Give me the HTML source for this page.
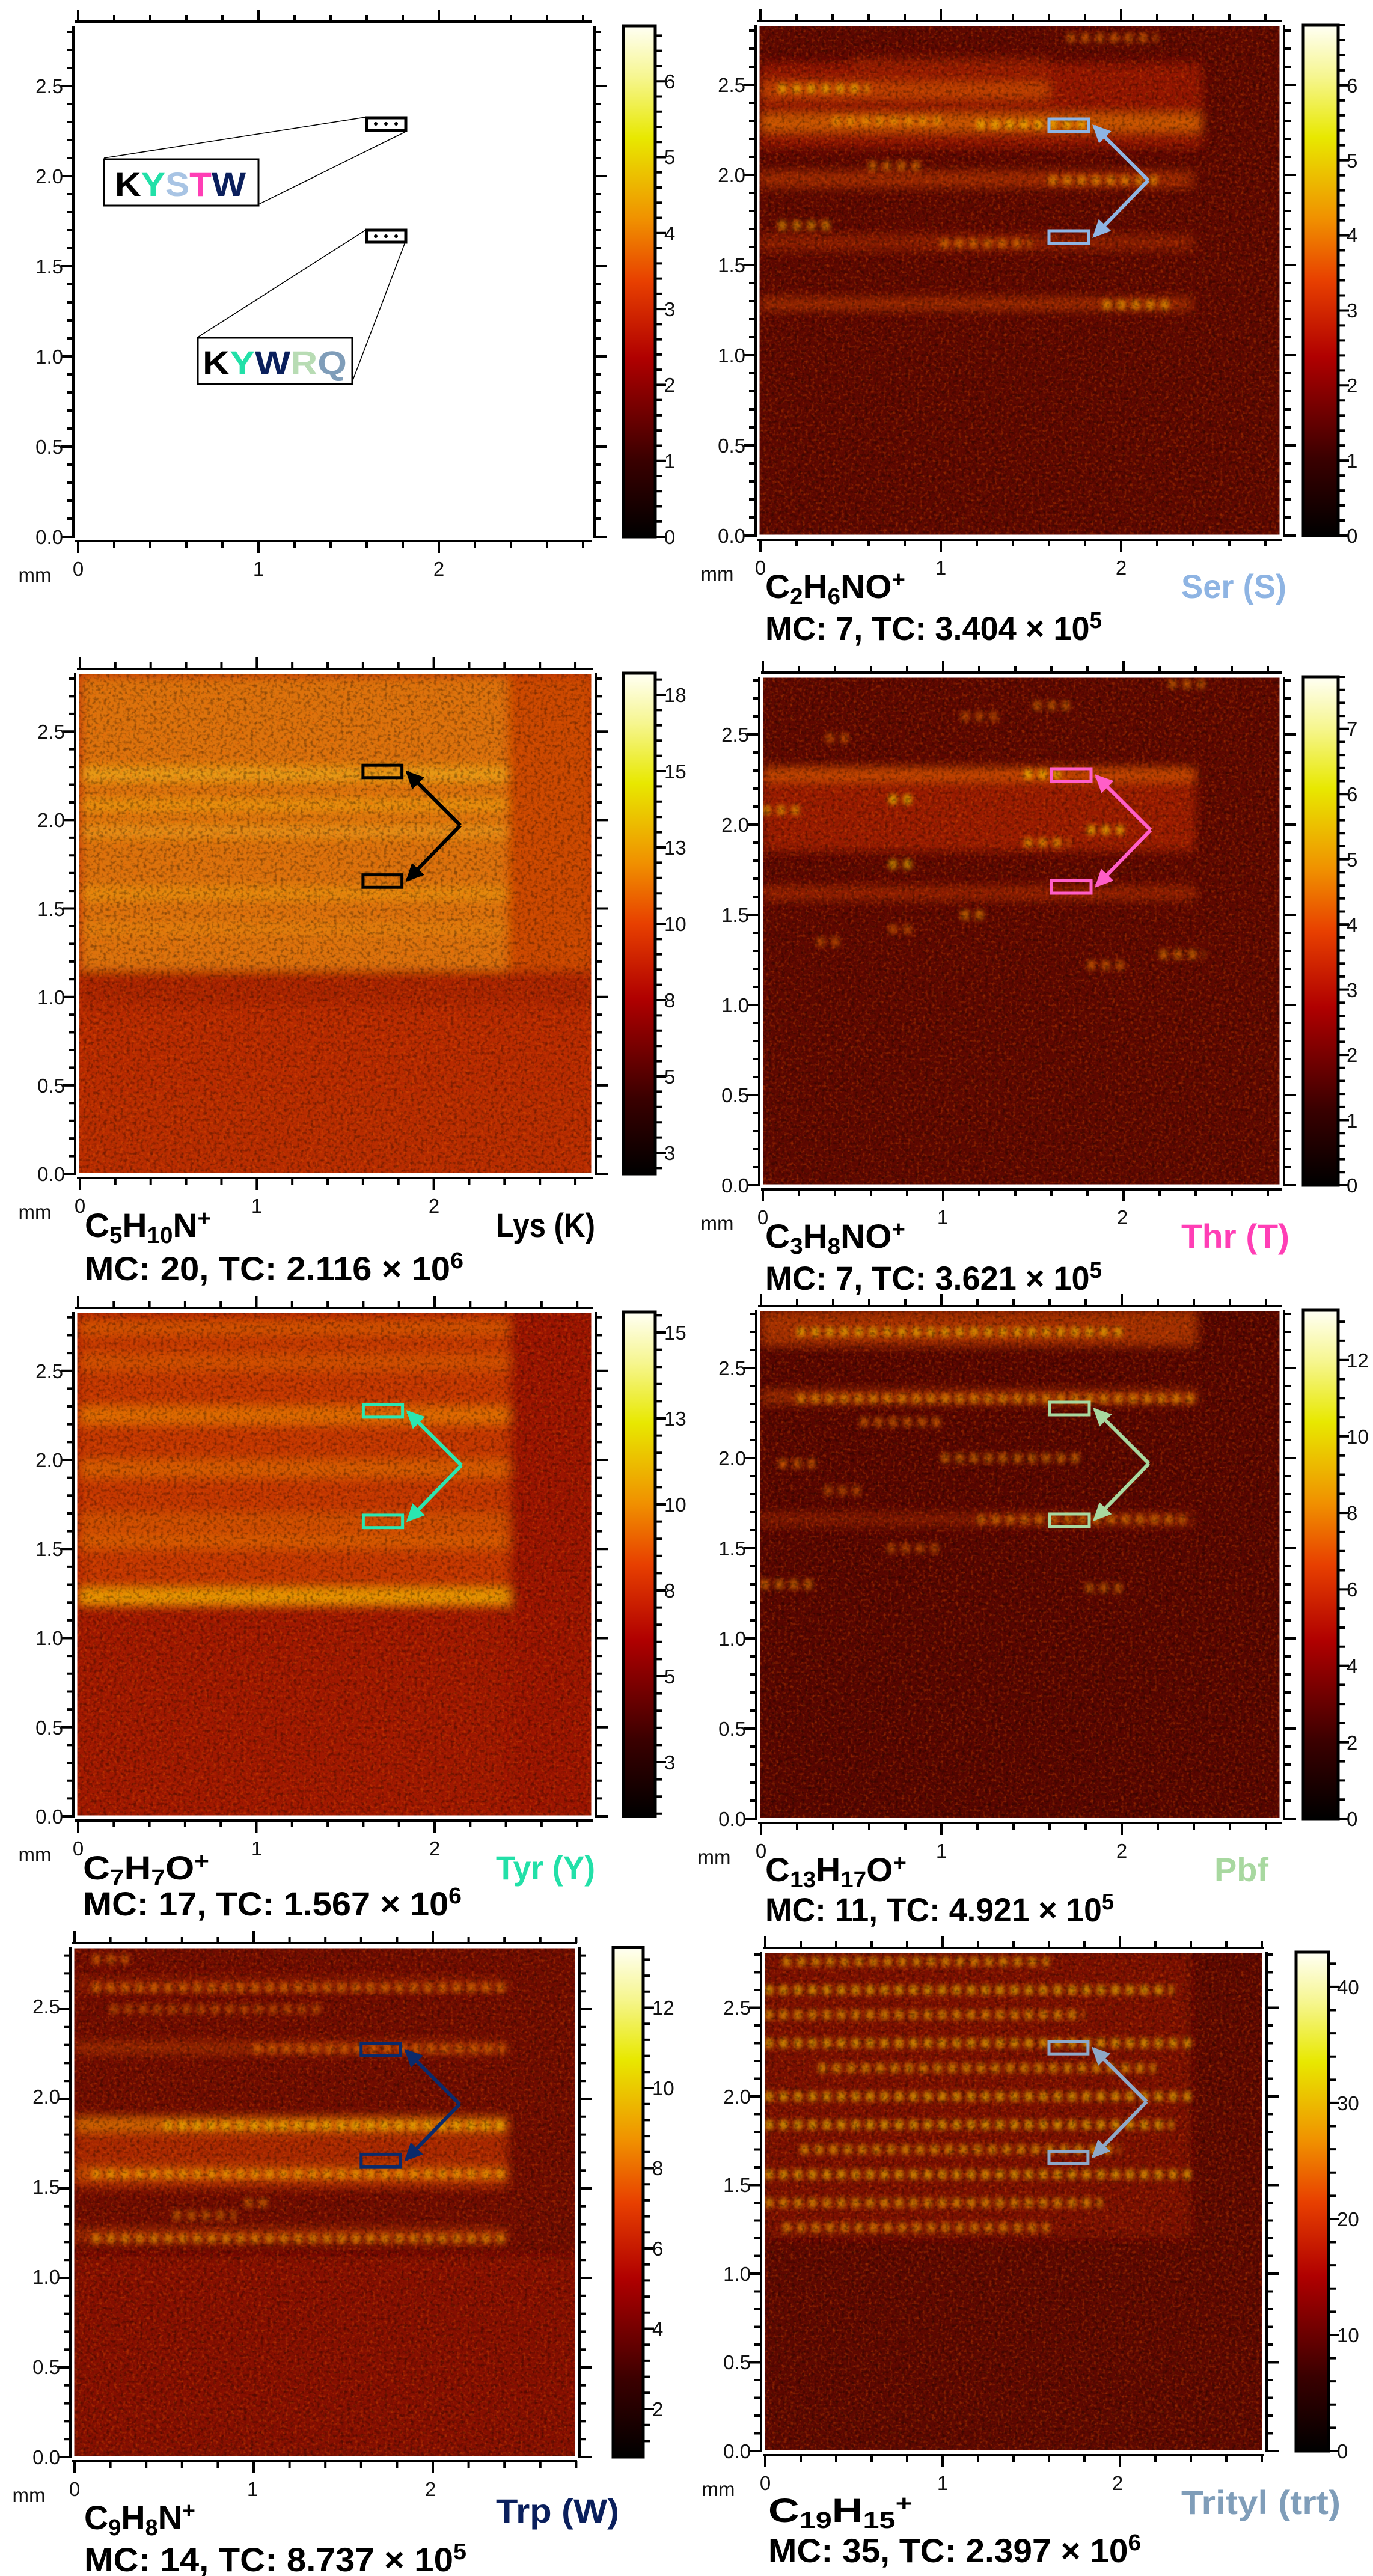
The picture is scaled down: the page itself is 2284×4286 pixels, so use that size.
<!DOCTYPE html>
<html><head><meta charset="utf-8"><style>
html,body{margin:0;padding:0;background:#fff;}
svg{display:block;}
.t{font-family:"Liberation Sans",sans-serif;font-size:33px;fill:#111;}
.f{font-family:"Liberation Sans",sans-serif;font-weight:bold;font-size:56px;fill:#000;}
</style></head><body>
<svg id="s" xmlns="http://www.w3.org/2000/svg" width="2284" height="4286" viewBox="0 0 2284 4286">
<defs>
<linearGradient id="cm" x1="0" y1="1" x2="0" y2="0">
<stop offset="0" stop-color="#000"/><stop offset="0.15" stop-color="#3a0000"/><stop offset="0.35" stop-color="#b00000"/><stop offset="0.5" stop-color="#e84000"/><stop offset="0.62" stop-color="#f09000"/><stop offset="0.78" stop-color="#e8e800"/><stop offset="0.9" stop-color="#f6f690"/><stop offset="1" stop-color="#fffff4"/>
</linearGradient>
<filter id="nz" x="0" y="0" width="1" height="1"><feTurbulence type="fractalNoise" baseFrequency="0.2" numOctaves="2" seed="3"/><feColorMatrix values="0 0 0 0 0.9  0 0 0 0 0.12  0 0 0 0 0  3 0 0 0 -1.5"/></filter>
<filter id="nd" x="0" y="0" width="1" height="1"><feTurbulence type="fractalNoise" baseFrequency="0.18" numOctaves="2" seed="7"/><feColorMatrix values="0 0 0 0 0  0 0 0 0 0  0 0 0 0 0  0 3 0 0 -1.4"/></filter>
<filter id="bl" x="-20%" y="-50%" width="140%" height="200%"><feGaussianBlur stdDeviation="8"/></filter>
<filter id="bs" x="-20%" y="-100%" width="140%" height="300%"><feGaussianBlur stdDeviation="4"/></filter>
</defs>
<rect width="2284" height="4286" fill="#fff"/>
<g id="heat"></g>
<g id="axes"></g>

<g stroke="#000" fill="none">
<rect x="610" y="196" width="65" height="21" stroke-width="5"/>
<rect x="610" y="383" width="65" height="20" stroke-width="5"/>
<line x1="608" y1="195" x2="173" y2="263" stroke-width="1.5"/>
<line x1="675" y1="219" x2="430" y2="340" stroke-width="1.5"/>
<line x1="608" y1="383" x2="329" y2="561" stroke-width="1.5"/>
<line x1="674" y1="403" x2="586" y2="635" stroke-width="1.5"/>
<rect x="173" y="265" width="257" height="77" stroke-width="3"/>
<rect x="329" y="562" width="257" height="77" stroke-width="3"/>
</g>
<g fill="#000"><circle cx="625" cy="206" r="3"/><circle cx="642" cy="206" r="3"/><circle cx="659" cy="206" r="3"/><circle cx="625" cy="393" r="3"/><circle cx="642" cy="393" r="3"/><circle cx="659" cy="393" r="3"/></g>
<text class="f" x="191" y="326" font-size="62" textLength="218" lengthAdjust="spacingAndGlyphs"><tspan fill="#000">K</tspan><tspan fill="#22e0a8">Y</tspan><tspan fill="#a8c4e4">S</tspan><tspan fill="#ff3eb5">T</tspan><tspan fill="#0a1f5c">W</tspan></text>
<text class="f" x="337" y="623" font-size="62" textLength="240" lengthAdjust="spacingAndGlyphs"><tspan fill="#000">K</tspan><tspan fill="#22e0a8">Y</tspan><tspan fill="#0a1f5c">W</tspan><tspan fill="#b8dcb4">R</tspan><tspan fill="#7f9db9">Q</tspan></text>

<g class="t" text-anchor="end">
<text x="105" y="905">0.0</text><text x="105" y="755">0.5</text><text x="105" y="605">1.0</text><text x="105" y="455">1.5</text><text x="105" y="305">2.0</text><text x="105" y="155">2.5</text>
<text x="1240" y="903">0.0</text><text x="1240" y="753">0.5</text><text x="1240" y="603">1.0</text><text x="1240" y="453">1.5</text><text x="1240" y="303">2.0</text><text x="1240" y="153">2.5</text>
<text x="108" y="1965">0.0</text><text x="108" y="1818">0.5</text><text x="108" y="1671">1.0</text><text x="108" y="1524">1.5</text><text x="108" y="1376">2.0</text><text x="108" y="1229">2.5</text>
<text x="1246" y="1984">0.0</text><text x="1246" y="1834">0.5</text><text x="1246" y="1684">1.0</text><text x="1246" y="1534">1.5</text><text x="1246" y="1384">2.0</text><text x="1246" y="1234">2.5</text>
<text x="105" y="3034">0.0</text><text x="105" y="2886">0.5</text><text x="105" y="2737">1.0</text><text x="105" y="2589">1.5</text><text x="105" y="2441">2.0</text><text x="105" y="2293">2.5</text>
<text x="1241" y="3038">0.0</text><text x="1241" y="2888">0.5</text><text x="1241" y="2738">1.0</text><text x="1241" y="2588">1.5</text><text x="1241" y="2438">2.0</text><text x="1241" y="2288">2.5</text>
<text x="100" y="4100">0.0</text><text x="100" y="3950">0.5</text><text x="100" y="3800">1.0</text><text x="100" y="3650">1.5</text><text x="100" y="3500">2.0</text><text x="100" y="3350">2.5</text>
<text x="1249" y="4090">0.0</text><text x="1249" y="3942">0.5</text><text x="1249" y="3795">1.0</text><text x="1249" y="3647">1.5</text><text x="1249" y="3500">2.0</text><text x="1249" y="3352">2.5</text>
</g>
<g class="t" text-anchor="middle">
<text x="130" y="958">0</text><text x="430" y="958">1</text><text x="730" y="958">2</text><text x="58" y="968">mm</text>
<text x="1265" y="956">0</text><text x="1565" y="956">1</text><text x="1865" y="956">2</text><text x="1193" y="966">mm</text>
<text x="133" y="2018">0</text><text x="427" y="2018">1</text><text x="722" y="2018">2</text><text x="58" y="2028">mm</text>
<text x="1269" y="2037">0</text><text x="1568" y="2037">1</text><text x="1867" y="2037">2</text><text x="1193" y="2047">mm</text>
<text x="130" y="3087">0</text><text x="427" y="3087">1</text><text x="723" y="3087">2</text><text x="58" y="3097">mm</text>
<text x="1266" y="3091">0</text><text x="1566" y="3091">1</text><text x="1866" y="3091">2</text><text x="1188" y="3101">mm</text>
<text x="124" y="4153">0</text><text x="420" y="4153">1</text><text x="716" y="4153">2</text><text x="48" y="4163">mm</text>
<text x="1273" y="4143">0</text><text x="1568" y="4143">1</text><text x="1859" y="4143">2</text><text x="1195" y="4153">mm</text>
</g>
<g class="t">
<text x="1105" y="905">0</text><text x="1105" y="779">1</text><text x="1105" y="652">2</text><text x="1105" y="526">3</text><text x="1105" y="400">4</text><text x="1105" y="273">5</text><text x="1105" y="147">6</text>
<text x="2240" y="903">0</text><text x="2240" y="778">1</text><text x="2240" y="653">2</text><text x="2240" y="528">3</text><text x="2240" y="403">4</text><text x="2240" y="279">5</text><text x="2240" y="154">6</text>
<text x="1105" y="1930">3</text><text x="1105" y="1803">5</text><text x="1105" y="1676">8</text><text x="1105" y="1549">10</text><text x="1105" y="1422">13</text><text x="1105" y="1295">15</text><text x="1105" y="1168">18</text>
<text x="2240" y="1984">0</text><text x="2240" y="1876">1</text><text x="2240" y="1767">2</text><text x="2240" y="1659">3</text><text x="2240" y="1550">4</text><text x="2240" y="1442">5</text><text x="2240" y="1333">6</text><text x="2240" y="1224">7</text>
<text x="1105" y="2944">3</text><text x="1105" y="2801">5</text><text x="1105" y="2658">8</text><text x="1105" y="2515">10</text><text x="1105" y="2372">13</text><text x="1105" y="2229">15</text>
<text x="2240" y="3038">0</text><text x="2240" y="2911">2</text><text x="2240" y="2784">4</text><text x="2240" y="2656">6</text><text x="2240" y="2529">8</text><text x="2240" y="2402">10</text><text x="2240" y="2275">12</text>
<text x="1085" y="4020">2</text><text x="1085" y="3886">4</text><text x="1085" y="3753">6</text><text x="1085" y="3619">8</text><text x="1085" y="3486">10</text><text x="1085" y="3352">12</text>
<text x="2224" y="4090">0</text><text x="2224" y="3897">10</text><text x="2224" y="3704">20</text><text x="2224" y="3511">30</text><text x="2224" y="3318">40</text>
</g>

<g class="f">
<text x="1273" y="995" textLength="233" lengthAdjust="spacingAndGlyphs">C<tspan font-size="38" dy="10">2</tspan><tspan dy="-10">H</tspan><tspan font-size="38" dy="10">6</tspan><tspan dy="-10">NO</tspan><tspan font-size="38" dy="-18">+</tspan></text>
<text x="1273" y="1065" textLength="560" lengthAdjust="spacingAndGlyphs">MC: 7, TC: 3.404 × 10<tspan font-size="38" dy="-20">5</tspan></text>
<text x="2140" y="995" text-anchor="end" fill="#8eb4e3" textLength="175" lengthAdjust="spacingAndGlyphs">Ser (S)</text>

<text x="141" y="2058" textLength="210" lengthAdjust="spacingAndGlyphs">C<tspan font-size="38" dy="10">5</tspan><tspan dy="-10">H</tspan><tspan font-size="38" dy="10">10</tspan><tspan dy="-10">N</tspan><tspan font-size="38" dy="-18">+</tspan></text>
<text x="141" y="2130" textLength="630" lengthAdjust="spacingAndGlyphs">MC: 20, TC: 2.116 × 10<tspan font-size="38" dy="-20">6</tspan></text>
<text x="990" y="2058" text-anchor="end" fill="#000" textLength="165" lengthAdjust="spacingAndGlyphs">Lys (K)</text>

<text x="1273" y="2076" textLength="233" lengthAdjust="spacingAndGlyphs">C<tspan font-size="38" dy="10">3</tspan><tspan dy="-10">H</tspan><tspan font-size="38" dy="10">8</tspan><tspan dy="-10">NO</tspan><tspan font-size="38" dy="-18">+</tspan></text>
<text x="1273" y="2146" textLength="560" lengthAdjust="spacingAndGlyphs">MC: 7, TC: 3.621 × 10<tspan font-size="38" dy="-20">5</tspan></text>
<text x="2145" y="2076" text-anchor="end" fill="#ff3eb5" textLength="180" lengthAdjust="spacingAndGlyphs">Thr (T)</text>

<text x="138" y="3127" textLength="210" lengthAdjust="spacingAndGlyphs">C<tspan font-size="38" dy="10">7</tspan><tspan dy="-10">H</tspan><tspan font-size="38" dy="10">7</tspan><tspan dy="-10">O</tspan><tspan font-size="38" dy="-18">+</tspan></text>
<text x="138" y="3187" textLength="630" lengthAdjust="spacingAndGlyphs">MC: 17, TC: 1.567 × 10<tspan font-size="38" dy="-20">6</tspan></text>
<text x="990" y="3127" text-anchor="end" fill="#22e0a8" textLength="165" lengthAdjust="spacingAndGlyphs">Tyr (Y)</text>

<text x="1273" y="3130" textLength="235" lengthAdjust="spacingAndGlyphs">C<tspan font-size="38" dy="10">13</tspan><tspan dy="-10">H</tspan><tspan font-size="38" dy="10">17</tspan><tspan dy="-10">O</tspan><tspan font-size="38" dy="-18">+</tspan></text>
<text x="1273" y="3197" textLength="580" lengthAdjust="spacingAndGlyphs">MC: 11, TC: 4.921 × 10<tspan font-size="38" dy="-20">5</tspan></text>
<text x="2110" y="3130" text-anchor="end" fill="#a8d8a0" textLength="90" lengthAdjust="spacingAndGlyphs">Pbf</text>

<text x="140" y="4208" textLength="185" lengthAdjust="spacingAndGlyphs">C<tspan font-size="38" dy="10">9</tspan><tspan dy="-10">H</tspan><tspan font-size="38" dy="10">8</tspan><tspan dy="-10">N</tspan><tspan font-size="38" dy="-18">+</tspan></text>
<text x="140" y="4278" textLength="636" lengthAdjust="spacingAndGlyphs">MC: 14, TC: 8.737 × 10<tspan font-size="38" dy="-20">5</tspan></text>
<text x="1030" y="4197" text-anchor="end" fill="#0a1f5c" textLength="205" lengthAdjust="spacingAndGlyphs">Trp (W)</text>

<text x="1278" y="4196" textLength="240" lengthAdjust="spacingAndGlyphs">C<tspan font-size="38" dy="10">19</tspan><tspan dy="-10">H</tspan><tspan font-size="38" dy="10">15</tspan><tspan font-size="38" dy="-28">+</tspan></text>
<text x="1278" y="4263" textLength="620" lengthAdjust="spacingAndGlyphs">MC: 35, TC: 2.397 × 10<tspan font-size="38" dy="-20">6</tspan></text>
<text x="2230" y="4183" text-anchor="end" fill="#7f9db9" textLength="265" lengthAdjust="spacingAndGlyphs">Trityl (trt)</text>
</g>
</svg>
<script>
(function(){
var NS="http://www.w3.org/2000/svg";
function el(p,n,a){var e=document.createElementNS(NS,n);for(var k in a)e.setAttribute(k,a[k]);p.appendChild(e);return e;}
var H=document.getElementById('heat'),A=document.getElementById('axes'),defs=document.querySelector('defs');
var P=[
{x0:127,y0:43,x1:983,y1:893,ox:130,S:300,cb:[1037,1090],cbt:[0,6.73,0.2,1],heat:null},
{x0:1262,y0:42,x1:2130,y1:891,ox:1265,S:300,cb:[2168,2226],cbt:[0,6.8,0.2,1],base:'#5e0800',col:'#8eb4e3',
 bands:[[0,2.45,2.15,2.62,'#a82000',.7],[0,2.45,2.24,2.34,'#e07000',.7],[0,1.6,2.42,2.52,'#d85a00',.6],[0,2.4,1.93,2.02,'#c84000',.6],[0,2.4,1.58,1.67,'#b83000',.5],[0,2.4,1.25,1.32,'#c84000',.6],[0.5,1.6,2.58,2.66,'#b02800',.4]],
 dots:[[2.28,1.2,1.8,'#f8c800'],[2.48,0.1,0.6,'#f0c000'],[1.97,1.6,2.2,'#f0a000'],[1.28,1.9,2.3,'#f0b000'],[1.72,0.1,0.4,'#e8a000'],[2.76,1.7,2.2,'#e07000'],[2.3,0.4,1.0,'#f0a000'],[1.62,1.0,1.5,'#e08000'],[2.05,0.6,0.9,'#e08000']]},
{x0:130,y0:1120,x1:985,y1:1953,ox:133,S:294.3,cb:[1037,1090],cbl:[1918,127,2.5],base:'#b82c00',col:'#000',
 bands:[[0,2.42,1.15,2.82,'#e07a0a',.9],[2.42,2.9,1.15,2.82,'#d05000',.8],[0,2.42,2.22,2.3,'#f0b020',.7],[0,2.42,2.05,2.12,'#f0a818',.6],[0,2.42,1.9,1.97,'#f0b020',.5],[0,2.42,1.55,1.62,'#f0a818',.5],[0,2.42,1.35,1.42,'#e89018',.4],[0,2.9,0.95,1.15,'#a02000',.6],[0,2.9,0.5,0.95,'#b82800',.4]],dots:[]},
{x0:1268,y0:1126,x1:2130,y1:1972,ox:1269,S:300,cb:[2168,2226],cbt:[0,7.8,0.2,1],base:'#5e0800',col:'#ff5ec8',
 bands:[[0,2.4,1.85,2.3,'#a82000',.8],[0,2.4,2.24,2.32,'#d85a00',.7],[0,2.4,1.58,1.66,'#b83000',.6]],
 dots:[[2.28,1.45,1.65,'#f8d000'],[2.14,0.7,0.85,'#f8e000'],[1.97,1.8,2.0,'#f8d000'],[1.9,1.45,1.7,'#f0b000'],[1.78,0.7,0.85,'#f0c000'],[1.5,1.1,1.25,'#e89000'],[1.22,1.8,2.0,'#e07000'],[1.28,2.2,2.45,'#e08000'],[2.6,1.1,1.3,'#d06000'],[2.66,1.5,1.7,'#d07000'],[2.78,2.25,2.45,'#d07000'],[2.48,0.35,0.5,'#d06000'],[1.35,0.3,0.45,'#d06000'],[1.42,0.7,0.85,'#d06000'],[2.08,0.0,0.2,'#f0b000']]},
{x0:127,y0:2183,x1:985,y1:3022,ox:130,S:296.5,cb:[1037,1090],cbl:[2932,143,2.5],base:'#a01800',col:'#2ae6b0',
 bands:[[0,2.42,1.18,2.82,'#c83c00',.9],[0,2.42,1.18,1.28,'#f0b000',.8],[0,2.42,2.2,2.3,'#f09000',.6],[0,2.42,1.9,2.0,'#e88000',.5],[0,2.42,1.5,1.6,'#e87800',.5],[0,2.42,2.5,2.6,'#e07000',.4],[0,2.42,2.7,2.78,'#e07800',.4],[0,2.42,1.62,1.7,'#e07800',.4],[2.42,2.9,0,2.85,'#981600',.6]],dots:[]},
{x0:1263,y0:2180,x1:2130,y1:3026,ox:1266,S:300,cb:[2168,2226],cbt:[0,13.3,0.5,2],base:'#580600',col:'#a8d8a0',
 bands:[[0,2.42,2.62,2.82,'#b83c00',.8],[0,2.42,2.3,2.38,'#c04000',.6],[0,2.4,1.62,1.7,'#a82800',.5]],
 dots:[[2.33,0.2,2.4,'#f0a000'],[2.0,1.0,1.8,'#e08000'],[1.97,0.1,0.3,'#e07000'],[1.66,1.2,2.35,'#e08000'],[1.5,0.7,1.0,'#d06000'],[1.3,0,0.3,'#e08000'],[1.28,1.8,2.0,'#d07000'],[2.2,0.55,1.0,'#e07000'],[1.82,0.35,0.55,'#d06000'],[2.7,0.2,2.0,'#f0c000']]},
{x0:122,y0:3240,x1:958,y1:4088,ox:124,S:298,cb:[1020,1070],cbl:[4008,133.5,2,0.8],base:'#700c00',col:'#0b2a6a',
 bands:[[0,2.9,0,1.12,'#900e00',.7],[0,2.42,1.5,1.9,'#b83000',.8],[0,2.42,1.82,1.9,'#e89000',.6],[0,2.42,1.55,1.62,'#e87800',.5],[0,2.42,2.25,2.32,'#c04000',.5],[0,2.42,1.2,1.28,'#c84800',.5],[0,2.42,2.6,2.68,'#b03000',.4]],
 dots:[[2.62,0.1,2.4,'#e88000'],[2.28,1.0,2.4,'#e07000'],[1.22,0.1,2.4,'#f0a000'],[1.85,0.5,2.4,'#f0c000'],[1.58,0.1,2.4,'#f0b000'],[2.78,0.1,0.3,'#e07000'],[2.5,0.2,1.4,'#d06000'],[1.35,0.55,0.9,'#d07000'],[1.42,0.95,1.1,'#d07000']]},
{x0:1271,y0:3248,x1:2101,y1:4078,ox:1273,S:295,cb:[2156,2210],cbt:[0,43,2,10],base:'#5e0800',col:'#8ea8c8',
 bands:[[0,2.4,1.2,2.82,'#901800',.6]],
 dots:[[2.76,0.1,1.6,'#f0b000'],[2.6,0.0,2.3,'#f8c800'],[2.46,0.0,1.8,'#f0b000'],[2.3,0.0,2.4,'#f8c800'],[2.16,0.3,2.2,'#f0b000'],[2.0,0.0,2.4,'#f8c800'],[1.84,0.0,2.3,'#f8d000'],[1.7,0.2,2.0,'#f0b000'],[1.56,0.0,2.4,'#f8c800'],[1.4,0.0,1.9,'#f0b000'],[1.26,0.1,1.6,'#f0a000']]}
];
P.forEach(function(p,i){
 var X=function(m){return p.ox+m*p.S;}, Y=function(m){return p.y1-m*p.S;};
 var w=p.x1-p.x0,h=p.y1-p.y0;
 if(p.base){
  var cp=el(defs,'clipPath',{id:'c'+i});el(cp,'rect',{x:p.x0,y:p.y0,width:w,height:h});
  var g=el(H,'g',{'clip-path':'url(#c'+i+')'});
  el(g,'rect',{x:p.x0,y:p.y0,width:w,height:h,fill:p.base});
  var gb=el(g,'g',{filter:'url(#bl)'});
  p.bands.forEach(function(b){el(gb,'rect',{x:X(b[0]),y:Y(b[3]),width:(b[1]-b[0])*p.S,height:(b[3]-b[2])*p.S,fill:b[4],opacity:b[5]});});
  var gd=el(g,'g',{filter:'url(#bs)'});
  p.dots.forEach(function(d){el(gd,'line',{x1:X(d[1]),x2:X(d[2]),y1:Y(d[0]),y2:Y(d[0]),stroke:d[3],'stroke-width':16,'stroke-dasharray':'13 11',opacity:.65});});
  el(g,'rect',{x:p.x0,y:p.y0,width:w,height:h,filter:'url(#nz)',opacity:.35});
  el(g,'rect',{x:p.x0,y:p.y0,width:w,height:h,filter:'url(#nd)',opacity:.35});
  el(g,'rect',{x:p.x0,y:p.y0,width:w,height:h,fill:'none',stroke:'#fff','stroke-width':3});
  var c=p.col, bx0=X(1.6),bx1=X(1.82),ax=X(2.15),ay=Y(1.97);
  el(A,'rect',{x:bx0,y:Y(2.31),width:bx1-bx0,height:0.07*p.S,fill:'none',stroke:c,'stroke-width':5});
  el(A,'rect',{x:bx0,y:Y(1.69),width:bx1-bx0,height:0.07*p.S,fill:'none',stroke:c,'stroke-width':5});
  [[1.85,2.27],[1.85,1.66]].forEach(function(t){
   var tx=X(t[0]),ty=Y(t[1]);el(A,'line',{x1:ax,y1:ay,x2:tx,y2:ty,stroke:c,'stroke-width':6});
   var dx=tx-ax,dy=ty-ay,L=Math.sqrt(dx*dx+dy*dy),ux=dx/L,uy=dy/L,s=26;
   el(A,'polygon',{points:(tx+ux*4)+','+(ty+uy*4)+' '+(tx-ux*s-uy*s*0.55)+','+(ty-uy*s+ux*s*0.55)+' '+(tx-ux*s+uy*s*0.55)+','+(ty-uy*s-ux*s*0.55),fill:c});
  });
 }
 var d='',sw=4;
 var lx=p.x0-5, rx=p.x1+6, ty=p.y0-7, by=p.y1+7;
 d+='M'+lx+','+p.y0+'V'+(p.y1+2)+'M'+rx+','+p.y0+'V'+(p.y1+2);
 d+='M'+(p.x0-2)+','+ty+'H'+(p.x1+2)+'M'+(p.x0-2)+','+by+'H'+(p.x1+2);
 for(var k=0;k<=28;k++){var yy=Y(k/10);if(yy<p.y0-1)break;var L=(k%5==0)?20:11;d+='M'+lx+','+yy+'h'+(-L)+'M'+rx+','+yy+'h'+L;}
 for(var k=0;k<=14;k++){var xx=X(k*0.2);if(xx>p.x1+3)break;var L=(k%5==0)?20:11;d+='M'+xx+','+ty+'v'+(-L)+'M'+xx+','+by+'v'+L;}
 el(A,'path',{d:d,stroke:'#000','stroke-width':sw,fill:'none'});
 var cx0=p.cb[0],cx1=p.cb[1];
 el(A,'rect',{x:cx0,y:p.y0,width:cx1-cx0,height:h,fill:'url(#cm)',stroke:'#000','stroke-width':5});
 var cd='';
 if(p.cbt){var mn=p.cbt[0],mx=p.cbt[1],st=p.cbt[2],mj=p.cbt[3];
  for(var v=mn;v<=mx+1e-6;v+=st){var yy=p.y1-(v-mn)/(mx-mn)*h;var maj=Math.abs(v/mj-Math.round(v/mj))<1e-6;cd+='M'+cx1+','+yy+'h'+(maj?18:12);}
 } else {var y00=p.cbl[0],sp=p.cbl[1];
  for(var v=-3;v<=40;v++){var yy=y00-v*sp/5;if(yy<p.y0||yy>p.y1)continue;cd+='M'+cx1+','+yy+'h'+(v%5==0?18:12);}
 }
 el(A,'path',{d:cd,stroke:'#000','stroke-width':4,fill:'none'});
});
})();
</script>
</body></html>
